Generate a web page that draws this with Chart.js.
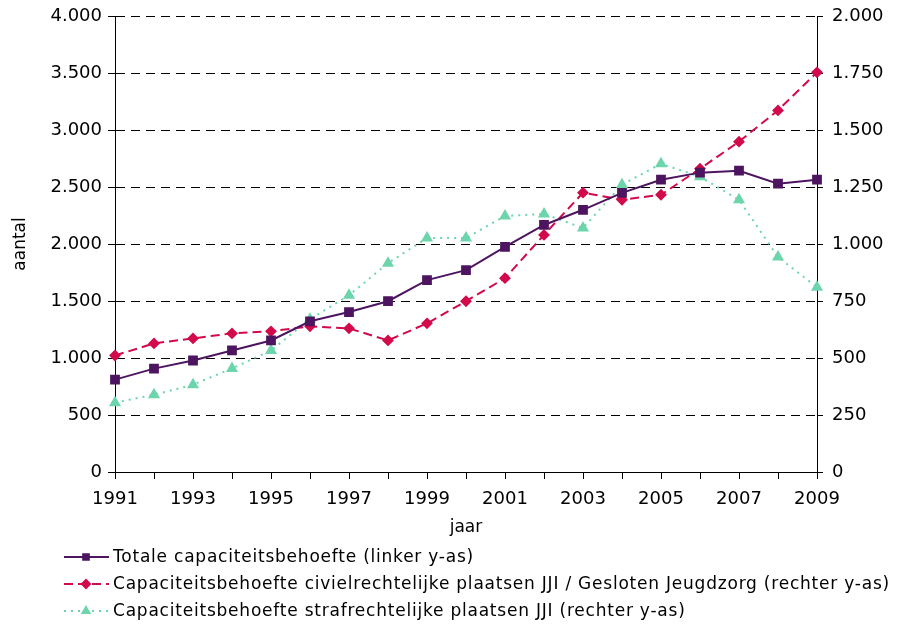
<!DOCTYPE html>
<html>
<head>
<meta charset="utf-8">
<script src="https://cdn.jsdelivr.net/npm/chart.js@4.4.1/dist/chart.umd.min.js"></script>
<style>
  html, body { margin: 0; padding: 0; background: #fff; }
  #wrap { width: 903px; height: 625px; }
</style>
</head>
<body>
<div id="wrap"><canvas id="chart" width="903" height="625"></canvas></div>
<script>
// ── Data ────────────────────────────────────────────────────────
const years = ["1991","1992","1993","1994","1995","1996","1997","1998","1999","2000",
               "2001","2002","2003","2004","2005","2006","2007","2008","2009"];

// linker y-as
const totaal = [810, 907, 978, 1066, 1154, 1322, 1403, 1498, 1683, 1771,
                1974, 2167, 2300, 2449, 2564, 2626, 2643, 2529, 2564];

// rechter y-as
const civiel = [511, 564, 586, 608, 617, 639, 630, 577, 652, 749,
                850, 1040, 1225, 1194, 1216, 1330, 1449, 1586, 1753];
const straf  = [304, 339, 383, 454, 533, 670, 775, 916, 1026, 1026,
                1123, 1132, 1070, 1260, 1352, 1295, 1194, 943, 810];

const leftTicks  = [0, 500, 1000, 1500, 2000, 2500, 3000, 3500, 4000];
const rightTicks = [0, 250, 500, 750, 1000, 1250, 1500, 1750, 2000];

const seriesNames = [
  "Totale capaciteitsbehoefte (linker y-as)",
  "Capaciteitsbehoefte civielrechtelijke plaatsen JJI / Gesloten Jeugdzorg (rechter y-as)",
  "Capaciteitsbehoefte strafrechtelijke plaatsen JJI (rechter y-as)"
];

// ── Helpers ─────────────────────────────────────────────────────
const FONT = "'DejaVu Sans', Verdana, sans-serif";
const dots = v => String(v).replace(/\B(?=(\d{3})+(?!\d))/g, ".");

// fixed axis widths, no extra label padding above/below
const fixWidth = w => s => { s.width = w; s.paddingTop = 0; s.paddingBottom = 0; };

// legend at the bottom, drawn from the dataset styles
const bottomLegend = {
  id: "bottomLegend",
  afterDraw(chart) {
    const ctx = chart.ctx;
    ctx.save();
    ctx.font = "17px " + FONT;
    ctx.letterSpacing = "0.78px";
    ctx.textBaseline = "middle";
    chart.data.datasets.forEach((ds, i) => {
      const y = 557 + i * 27;
      ctx.strokeStyle = ds.borderColor;
      ctx.lineWidth = ds.borderWidth;
      ctx.setLineDash(ds.borderDash || []);
      ctx.beginPath();
      ctx.moveTo(64, y);
      ctx.lineTo(109, y);
      ctx.stroke();
      ctx.setLineDash([]);
      ctx.fillStyle = ds.pointBackgroundColor;
      ctx.strokeStyle = ds.pointBackgroundColor;
      Chart.helpers.drawPoint(ctx, { pointStyle: ds.pointStyle, radius: 4, rotation: 0, borderWidth: 1 }, 86, y);
      ctx.fillStyle = "#000";
      ctx.fillText(ds.label, 113, y + 1);
    });
    ctx.restore();
  }
};

// ── Chart ───────────────────────────────────────────────────────
new Chart(document.getElementById("chart"), {
  type: "line",
  data: {
    labels: years,
    datasets: [
      {
        label: seriesNames[0], data: totaal, yAxisID: "yL",
        borderColor: "#4d1560", borderWidth: 2,
        pointStyle: "rect", pointRadius: 5.5, pointBackgroundColor: "#4d1560", pointBorderColor: "#4d1560"
      },
      {
        label: seriesNames[1], data: civiel, yAxisID: "yR",
        borderColor: "#d20a4b", borderWidth: 2, borderDash: [9, 5],
        pointStyle: "rectRot", pointRadius: 4.5, pointBackgroundColor: "#d20a4b", pointBorderColor: "#d20a4b"
      },
      {
        label: seriesNames[2], data: straf, yAxisID: "yR",
        borderColor: "#6dd5ac", borderWidth: 2, borderDash: [2, 5],
        pointStyle: "triangle", pointRadius: 5, pointBackgroundColor: "#6dd5ac", pointBorderColor: "#6dd5ac"
      }
    ]
  },
  options: {
    responsive: false,
    animation: false,
    devicePixelRatio: 1,
    tension: 0,
    layout: { padding: { top: 16, left: 0, right: 0, bottom: 87 } },
    plugins: { legend: { display: false }, tooltip: { enabled: false } },
    scales: {
      x: {
        offset: false,
        grid: { drawOnChartArea: false, drawTicks: true, tickLength: 7, color: "#000" },
        border: { display: true, color: "#000", width: 1 },
        ticks: {
          autoSkip: false, maxRotation: 0, padding: 10, color: "#000",
          font: { family: FONT, size: 18 },
          callback: (v, i) => (i % 2 === 0 ? years[i] : "")
        },
        title: { display: true, text: "jaar", color: "#000", font: { family: FONT, size: 17 }, padding: 0 },
        afterFit: s => { s.height = 66; }
      },
      yL: {
        position: "left", min: 0, max: 4000,
        afterBuildTicks: s => { s.ticks = leftTicks.map(v => ({ value: v })); },
        grid: { color: "#000", lineWidth: 1, tickLength: 7, tickBorderDash: [] },
        border: { display: true, color: "#000", width: 1, dash: [9, 6] },
        ticks: { padding: 6, color: "#000", font: { family: FONT, size: 18 }, callback: v => dots(v) },
        title: { display: true, text: "aantal", color: "#000", font: { family: FONT, size: 17 }, padding: { top: 10 } },
        afterFit: fixWidth(115)
      },
      yR: {
        position: "right", min: 0, max: 2000,
        afterBuildTicks: s => { s.ticks = rightTicks.map(v => ({ value: v })); },
        grid: { drawOnChartArea: false, color: "#000", tickLength: 6 },
        border: { display: true, color: "#000", width: 1 },
        ticks: { padding: 9, color: "#000", font: { family: FONT, size: 18 }, callback: v => dots(v) },
        afterFit: fixWidth(86)
      }
    }
  },
  plugins: [bottomLegend]
});
</script>
</body>
</html>
